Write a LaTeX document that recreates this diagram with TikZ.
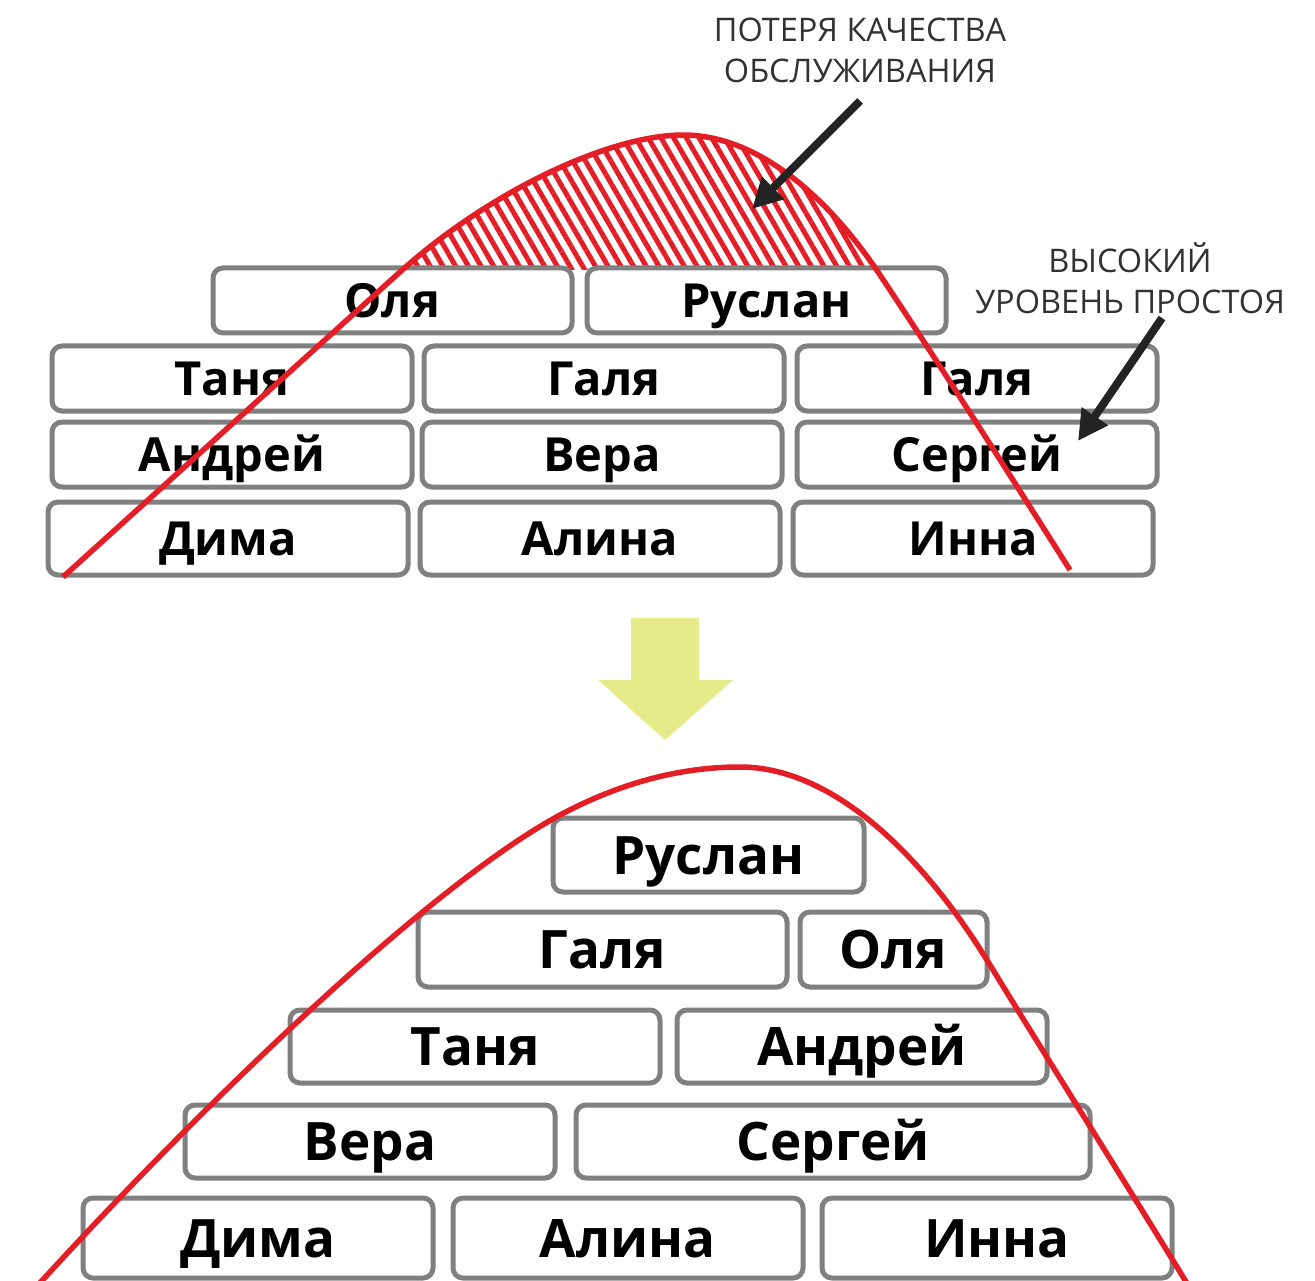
\documentclass[tikz,border=0pt]{standalone}
\usepackage{fontspec}
\setmainfont{Open Sans}
\usetikzlibrary{arrows.meta,patterns.meta}
\definecolor{cred}{RGB}{228,30,38}
\definecolor{cgray}{RGB}{128,128,128}
\definecolor{cdark}{RGB}{35,35,35}
\definecolor{clabel}{RGB}{50,50,50}
\definecolor{cyel}{RGB}{230,235,138}
\tikzset{
  namebox/.style={draw=cgray, line width=5pt, rounded corners=10pt, fill=white,
    inner sep=0pt, text height=33.5pt, text depth=0pt,
    font=\fontsize{47}{52}\selectfont\bfseries, text=black},
  bignamebox/.style={namebox, text height=38pt, font=\fontsize{53}{58}\selectfont\bfseries},
  curveline/.style={draw=cred, line width=5.5pt},
  hatch/.style={pattern={Lines[angle=-60,distance=11pt,line width=5pt]}, pattern color=cred},
  pointer/.style={draw=cdark, line width=8pt, -{Triangle[length=30pt,width=30pt]}},
  lbl/.style={font=\fontsize{32.5}{41}\selectfont, text=clabel, align=center, inner sep=0pt},
}
\newcommand\bx[7][namebox]{\node[#1, minimum width={(#5-#3)*1pt}, minimum height={(#6-#4)*1pt}] (#2) at ({(#3+#5)/2},{(#4+#6)/2}) {#7};}
\newcommand\topcurve{(63,577) -- (400,272) .. controls (490,191) and (610,135) .. (683,135) .. controls (760,135) and (830,200) .. (880,275) .. controls (940,365) and (1010,475) .. (1070,570)}
\begin{document}
\begin{tikzpicture}[x=1pt,y=-1pt]
\useasboundingbox (0,0) rectangle (1315,1281);
\fill[white] (0,0) rectangle (1315,1281);
% hatched region
\begin{scope}
\clip (0,0) rectangle (1315,270);
\fill[hatch] \topcurve -- cycle;
\end{scope}
% top boxes
\bx{olya1}{213}{268}{572}{333}{Оля}
\bx{ruslan1}{587}{268}{946}{333}{Руслан}
\bx{tanya1}{52}{346}{412}{411}{Таня}
\bx{galya1}{424}{346}{784}{411}{Галя}
\bx{galya1b}{797}{346}{1157}{411}{Галя}
\bx{andrey1}{52}{422}{412}{487}{Андрей}
\bx{vera1}{422}{422}{782}{487}{Вера}
\bx{sergey1}{797}{422}{1157}{487}{Сергей}
\bx{dima1}{48}{502}{408}{575}{Дима}
\bx{alina1}{420}{502}{780}{575}{Алина}
\bx{inna1}{793}{502}{1153}{575}{Инна}
% top curve
\draw[curveline] \topcurve;
% labels
\node[lbl] (loss) at (860,50) {ПОТЕРЯ КАЧЕСТВА\\ОБСЛУЖИВАНИЯ};
\node[lbl] (idle) at (1130,278) {ВЫСОКИЙ\\УРОВЕНЬ ПРОСТОЯ};
\coordinate (lossTail) at (860,101);
\coordinate (lossTip) at (752,209);
\coordinate (idleTail) at (1162,318);
\coordinate (idleTip) at (1078,441);
\draw[pointer] (lossTail) -- (lossTip);
\draw[pointer] (idleTail) -- (idleTip);
% big arrow
\fill[cyel] (631,618) -- (699,618) -- (699,680) -- (733,680) -- (665,740) -- (598,680) -- (631,680) -- cycle;
% bottom boxes
\bx[bignamebox]{ruslan2}{553}{818}{864}{892}{Руслан}
\bx[bignamebox]{galya2}{418}{912}{787}{987}{Галя}
\bx[bignamebox]{olya2}{800}{912}{987}{987}{Оля}
\bx[bignamebox]{tanya2}{290}{1010}{660}{1083}{Таня}
\bx[bignamebox]{andrey2}{677}{1010}{1047}{1083}{Андрей}
\bx[bignamebox]{vera2}{185}{1105}{555}{1178}{Вера}
\bx[bignamebox]{sergey2}{576}{1105}{1090}{1178}{Сергей}
\bx[bignamebox]{dima2}{83}{1198}{433}{1278}{Дима}
\bx[bignamebox]{alina2}{453}{1198}{803}{1278}{Алина}
\bx[bignamebox]{inna2}{822}{1198}{1172}{1278}{Инна}
% bottom curve
\draw[curveline] (38,1285) .. controls (230,1075) and (440,880) .. (560,815) .. controls (620,783) and (680,767) .. (740,767) .. controls (830,767) and (920,850) .. (990,965) .. controls (1050,1063) and (1130,1190) .. (1188,1285);
\end{tikzpicture}
\end{document}
